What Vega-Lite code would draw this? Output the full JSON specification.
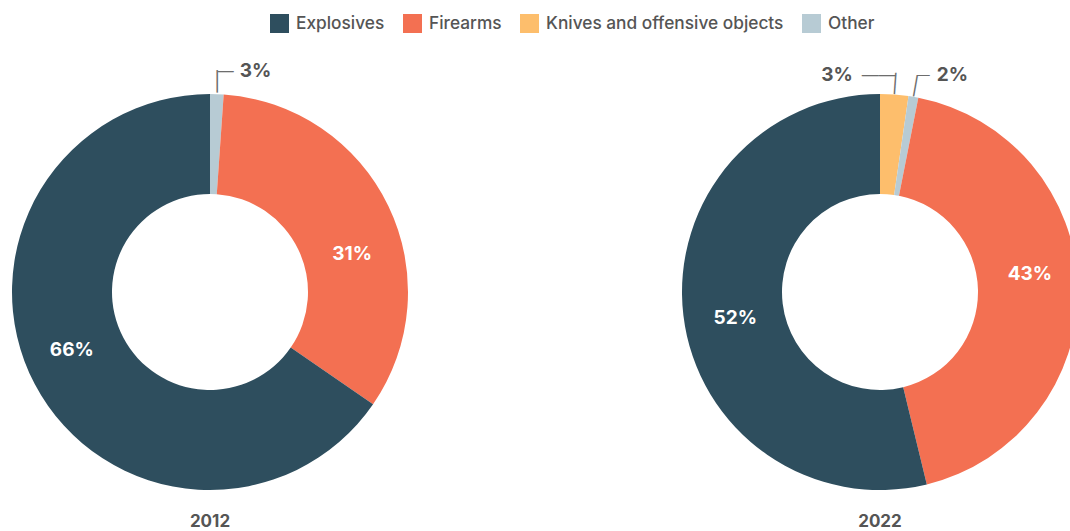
{
  "$schema": "https://vega.github.io/schema/vega-lite/v6.json",
  "background": "white",
  "padding": {"left": 12, "top": 14, "right": 0, "bottom": 0},
  "bounds": "flush",
  "config": {"view": {"stroke": null}, "font": "Inter"},
  "data": {
    "values": [
      {"year": "2012", "category": "Other", "value": 1.1, "label": "3%", "rank": 2},
      {"year": "2012", "category": "Firearms", "value": 33.5, "label": "31%", "rank": 3},
      {"year": "2012", "category": "Explosives", "value": 65.4, "label": "66%", "rank": 4},
      {"year": "2022", "category": "Knives and offensive objects", "value": 2.3, "label": "3%", "rank": 1},
      {"year": "2022", "category": "Other", "value": 0.8, "label": "2%", "rank": 2},
      {"year": "2022", "category": "Firearms", "value": 43.1, "label": "43%", "rank": 3},
      {"year": "2022", "category": "Explosives", "value": 53.8, "label": "52%", "rank": 4}
    ]
  },
  "spacing": 274,
  "resolve": {"scale": {"color": "shared", "theta": "independent"}},
  "hconcat": [
    {
      "width": 396,
      "height": 396,
      "title": {"text": "2012", "orient": "bottom", "offset": 24, "fontSize": 17, "fontWeight": "bold", "color": "#555555", "font": "Inter"},
      "transform": [{"filter": "datum.year == '2012'"}],
      "encoding": {
        "theta": {"field": "value", "type": "quantitative", "stack": true},
        "order": {"field": "rank", "type": "quantitative"},
        "detail": {"field": "category", "type": "nominal"}
      },
      "layer": [
        {
          "mark": {"type": "arc", "innerRadius": 98, "outerRadius": 198},
          "encoding": {
            "color": {
              "field": "category",
              "type": "nominal",
              "scale": {
                "domain": ["Explosives", "Firearms", "Knives and offensive objects", "Other"],
                "range": ["#2e4e5e", "#f37052", "#fdbe6c", "#b7cbd4"]
              },
              "legend": {
                "title": null,
                "orient": "none",
                "legendX": 258,
                "legendY": -80,
                "direction": "horizontal",
                "symbolType": "square",
                "symbolSize": 361,
                "symbolStrokeWidth": 0,
                "symbolOpacity": 1,
                "labelFontSize": 17.3,
                "labelFontWeight": 500,
                "labelColor": "#555555",
                "labelFont": "Inter",
                "labelOffset": 7,
                "columnPadding": 18,
                "labelLimit": 400
              }
            }
          }
        },
        {
          "mark": {"type": "text", "radius": 147, "thetaOffset": 0.19, "fontSize": 19, "fontWeight": "bold", "color": "white", "font": "Inter"},
          "encoding": {"text": {"condition": {"test": "datum.category == 'Firearms'", "field": "label", "type": "nominal"}, "value": ""}}
        },
        {
          "mark": {"type": "text", "radius": 150, "thetaOffset": 0.085, "fontSize": 19, "fontWeight": "bold", "color": "white", "font": "Inter"},
          "encoding": {"text": {"condition": {"test": "datum.category == 'Explosives'", "field": "label", "type": "nominal"}, "value": ""}}
        },
        {
          "mark": {"type": "text", "radius": 210, "align": "center", "baseline": "middle", "font": "DejaVu Sans", "fontSize": 19, "color": "#6d6d6d"},
          "encoding": {"text": {"condition": {"test": "datum.category == 'Other'", "value": "│"}, "value": ""}}
        },
        {
          "mark": {"type": "text", "radius": 221, "align": "left", "baseline": "middle", "font": "Liberation Sans", "fontSize": 16, "color": "#6d6d6d"},
          "encoding": {"text": {"condition": {"test": "datum.category == 'Other'", "value": "—"}, "value": ""}}
        },
        {
          "mark": {"type": "text", "radius": 221, "align": "left", "baseline": "middle", "dx": 22, "fontSize": 19, "fontWeight": "bold", "color": "#555555", "font": "Inter"},
          "encoding": {"text": {"condition": {"test": "datum.category == 'Other'", "field": "label", "type": "nominal"}, "value": ""}}
        }
      ]
    },
    {
      "width": 396,
      "height": 396,
      "title": {"text": "2022", "orient": "bottom", "offset": 24, "fontSize": 17, "fontWeight": "bold", "color": "#555555", "font": "Inter"},
      "transform": [{"filter": "datum.year == '2022'"}],
      "encoding": {
        "theta": {"field": "value", "type": "quantitative", "stack": true},
        "order": {"field": "rank", "type": "quantitative"},
        "detail": {"field": "category", "type": "nominal"}
      },
      "layer": [
        {
          "mark": {"type": "arc", "innerRadius": 98, "outerRadius": 198},
          "encoding": {
            "color": {"field": "category", "type": "nominal"}
          }
        },
        {
          "mark": {"type": "text", "radius": 147, "thetaOffset": -0.056, "fontSize": 19, "fontWeight": "bold", "color": "white", "font": "Inter"},
          "encoding": {"text": {"condition": {"test": "datum.category == 'Explosives'", "field": "label", "type": "nominal"}, "value": ""}}
        },
        {
          "mark": {"type": "text", "radius": 151, "thetaOffset": -0.1, "fontSize": 19, "fontWeight": "bold", "color": "white", "font": "Inter"},
          "encoding": {"text": {"condition": {"test": "datum.category == 'Firearms'", "field": "label", "type": "nominal"}, "value": ""}}
        },
        {
          "mark": {"type": "text", "radius": 208, "angle": 4, "align": "center", "baseline": "middle", "font": "DejaVu Sans", "fontSize": 18, "color": "#6d6d6d"},
          "encoding": {"text": {"condition": {"test": "datum.category == 'Knives and offensive objects'", "value": "│"}, "value": ""}}
        },
        {
          "mark": {"type": "text", "radius": 208, "angle": 10, "align": "center", "baseline": "middle", "font": "DejaVu Sans", "fontSize": 18, "color": "#6d6d6d"},
          "encoding": {"text": {"condition": {"test": "datum.category == 'Other'", "value": "│"}, "value": ""}}
        },
        {
          "mark": {"type": "text", "radius": 218, "align": "right", "baseline": "middle", "font": "Liberation Sans", "fontSize": 17, "color": "#6d6d6d"},
          "encoding": {"text": {"condition": {"test": "datum.category == 'Knives and offensive objects'", "value": "——"}, "value": ""}}
        },
        {
          "mark": {"type": "text", "radius": 218, "align": "right", "baseline": "middle", "dx": -43, "fontSize": 19, "fontWeight": "bold", "color": "#555555", "font": "Inter"},
          "encoding": {"text": {"condition": {"test": "datum.category == 'Knives and offensive objects'", "field": "label", "type": "nominal"}, "value": ""}}
        },
        {
          "mark": {"type": "text", "radius": 218, "align": "left", "baseline": "middle", "dy": -2, "font": "Liberation Sans", "fontSize": 13, "color": "#6d6d6d"},
          "encoding": {"text": {"condition": {"test": "datum.category == 'Other'", "value": "—"}, "value": ""}}
        },
        {
          "mark": {"type": "text", "radius": 218, "align": "left", "baseline": "middle", "dx": 20, "dy": -2, "fontSize": 19, "fontWeight": "bold", "color": "#555555", "font": "Inter"},
          "encoding": {"text": {"condition": {"test": "datum.category == 'Other'", "field": "label", "type": "nominal"}, "value": ""}}
        }
      ]
    }
  ]
}
